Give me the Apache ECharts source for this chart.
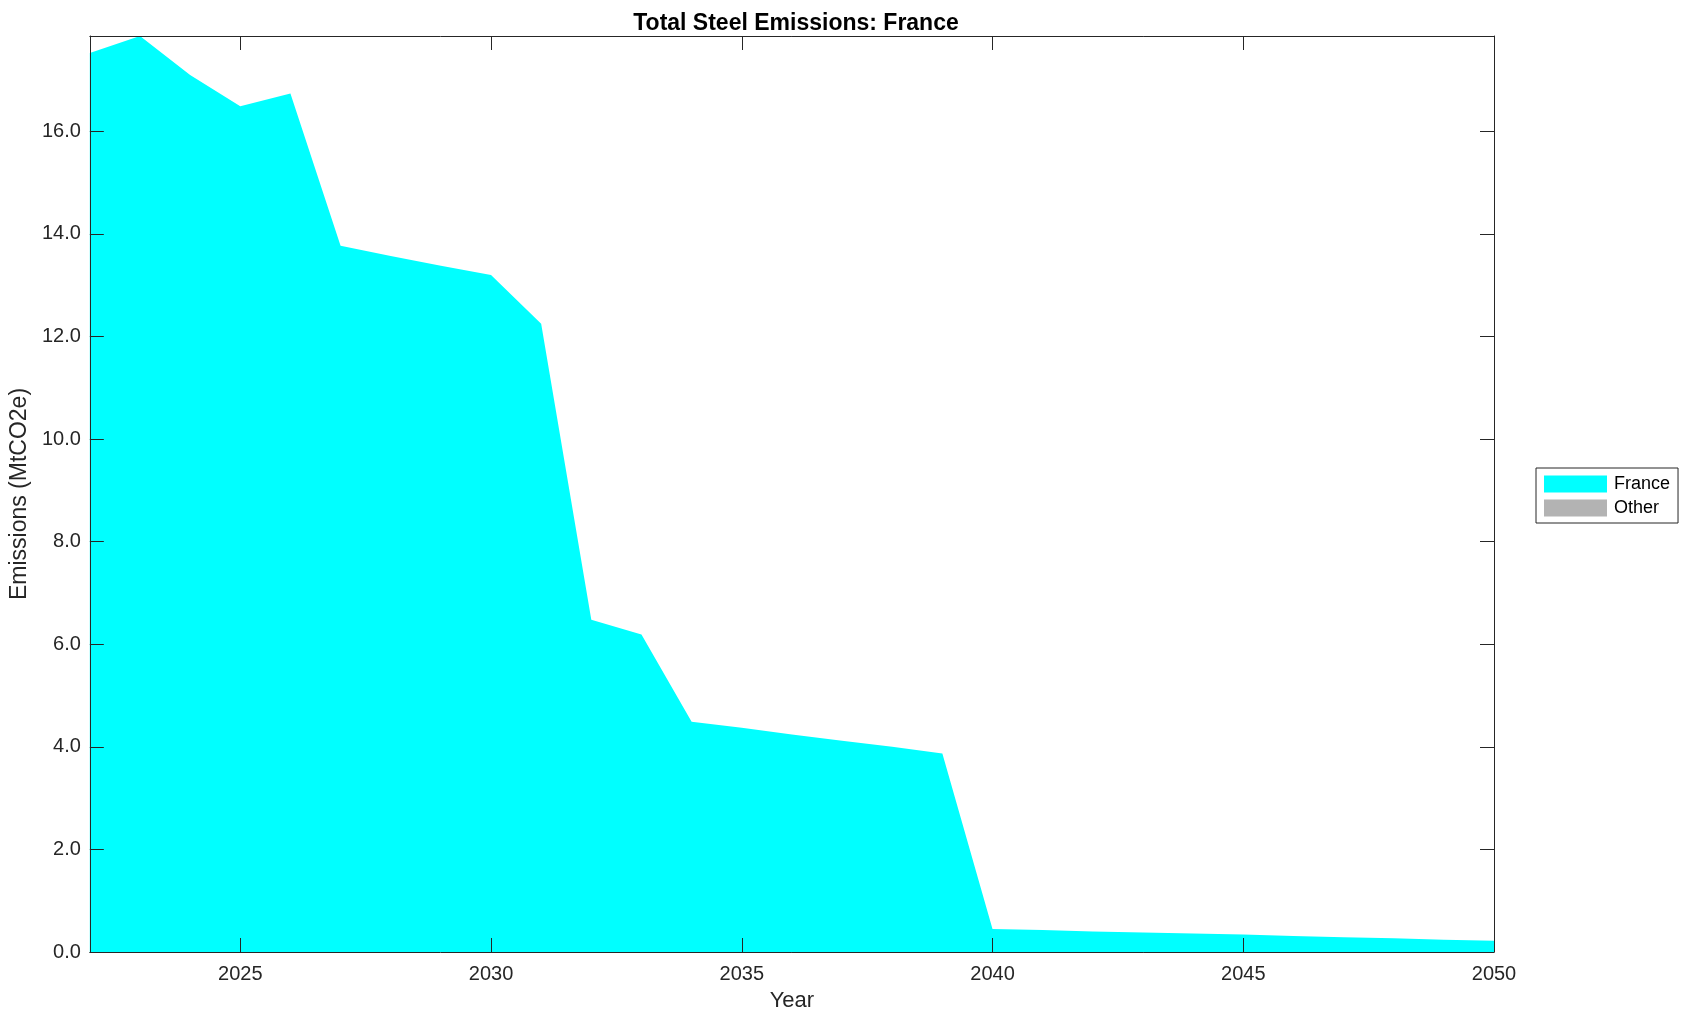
<!DOCTYPE html>
<html>
<head>
<meta charset="utf-8">
<script src="https://cdn.jsdelivr.net/npm/echarts@6/dist/echarts.min.js"></script>
<style>
html,body{margin:0;padding:0;background:#fff;}
#chart{width:1690px;height:1021px;}
</style>
</head>
<body>
<div id="chart"></div>
<script>
const years = [2022,2023,2024,2025,2026,2027,2028,2029,2030,2031,2032,2033,2034,2035,2036,2037,2038,2039,2040,2041,2042,2043,2044,2045,2046,2047,2048,2049,2050];
const franceValues = [17.53,17.86,17.10,16.49,16.74,13.77,13.57,13.38,13.20,12.25,6.48,6.19,4.49,4.37,4.24,4.12,4.00,3.87,0.45,0.43,0.40,0.38,0.36,0.34,0.31,0.29,0.27,0.24,0.22];
const otherValues = [0,0,0,0,0,0,0,0,0,0,0,0,0,0,0,0,0,0,0,0,0,0,0,0,0,0,0,0,0];
const seriesNames = ['France','Other'];
const xTickValues = [2025,2030,2035,2040,2045,2050];
const titleText = 'Total Steel Emissions: France';
const xTitle = 'Year';
const yTitle = 'Emissions (MtCO2e)';

const axisColor = '#262626';
const font = 'Liberation Sans, Arial, Helvetica, sans-serif';

const chart = echarts.init(document.getElementById('chart'), null, {renderer:'canvas'});
const yMax = 17.86;
const option = {
  backgroundColor: '#fff',
  animation: false,
  textStyle: {fontFamily: font},
  title: {
    text: titleText, left: 791, top: 7, textAlign: 'center',
    textStyle: {fontFamily: font, fontSize: 23, fontWeight: 'bold', color: '#000'}
  },
  legend: {
    orient: 'vertical', left: 1536, top: 468,
    data: seriesNames,
    itemWidth: 63, itemHeight: 17, itemGap: 6,
    padding: [7, 8, 6, 8],
    borderColor: axisColor, borderWidth: 1, backgroundColor: '#fff',
    icon: 'rect',
    textStyle: {fontFamily: font, fontSize: 18, color: '#000', padding: [0,0,0,2]}
  },
  grid: {left: 88, right: 196, top: 36, bottom: 69, containLabel: false},
  xAxis: [{
    type: 'value', min: 2022, max: 2050, position: 'bottom', z: 5,
    name: xTitle, nameLocation: 'middle', nameGap: 38,
    nameTextStyle: {fontFamily: font, fontSize: 22, color: axisColor},
    axisLine: {show: true, onZero: false, lineStyle: {color: axisColor, width: 1}},
    axisTick: {show: true, inside: true, length: 14, customValues: xTickValues, lineStyle: {color: axisColor}},
    axisLabel: {fontFamily: font, fontSize: 20, color: axisColor, margin: 12, customValues: xTickValues,
      formatter: v => String(v)},
    splitLine: {show: false}
  },{
    type: 'value', min: 2022, max: 2050, position: 'top', z: 5,
    axisLine: {show: true, onZero: false, lineStyle: {color: axisColor, width: 1}},
    axisTick: {show: true, inside: true, length: 14, customValues: xTickValues, lineStyle: {color: axisColor}},
    axisLabel: {show: false, customValues: xTickValues},
    splitLine: {show: false}
  }],
  yAxis: [{
    type: 'value', min: 0, max: yMax, interval: 2, z: 5,
    name: yTitle, nameLocation: 'middle', nameGap: 56,
    nameTextStyle: {fontFamily: font, fontSize: 23, color: axisColor},
    axisLine: {show: true, onZero: false, lineStyle: {color: axisColor, width: 1}},
    axisTick: {show: true, inside: true, length: 14, lineStyle: {color: axisColor}},
    axisLabel: {fontFamily: font, fontSize: 20, color: axisColor, margin: 9, showMaxLabel: false,
      formatter: v => (Math.abs(v % 2) < 1e-9 ? v.toFixed(1) : '')},
    splitLine: {show: false}
  },{
    type: 'value', min: 0, max: yMax, interval: 2, position: 'right', z: 5,
    axisLine: {show: true, onZero: false, lineStyle: {color: axisColor, width: 1}},
    axisTick: {show: true, inside: true, length: 14, lineStyle: {color: axisColor}},
    axisLabel: {show: false}, splitLine: {show: false}
  }],
  series: [{
    name: seriesNames[0], type: 'line', stack: 'total', xAxisIndex: 0, yAxisIndex: 0,
    data: years.map((y,i) => [y, franceValues[i]]),
    showSymbol: false, symbol: 'none',
    lineStyle: {width: 0, color: '#00FFFF'},
    itemStyle: {color: '#00FFFF'},
    areaStyle: {color: '#00FFFF', opacity: 1},
    z: 1
  },{
    name: seriesNames[1], type: 'line', stack: 'total', xAxisIndex: 0, yAxisIndex: 0,
    data: years.map((y,i) => [y, otherValues[i]]),
    showSymbol: false, symbol: 'none',
    lineStyle: {width: 0, color: '#B3B3B3'},
    itemStyle: {color: '#B3B3B3'},
    areaStyle: {color: '#B3B3B3', opacity: 1},
    z: 1
  }]
};
chart.setOption(option);
</script>
</body>
</html>
